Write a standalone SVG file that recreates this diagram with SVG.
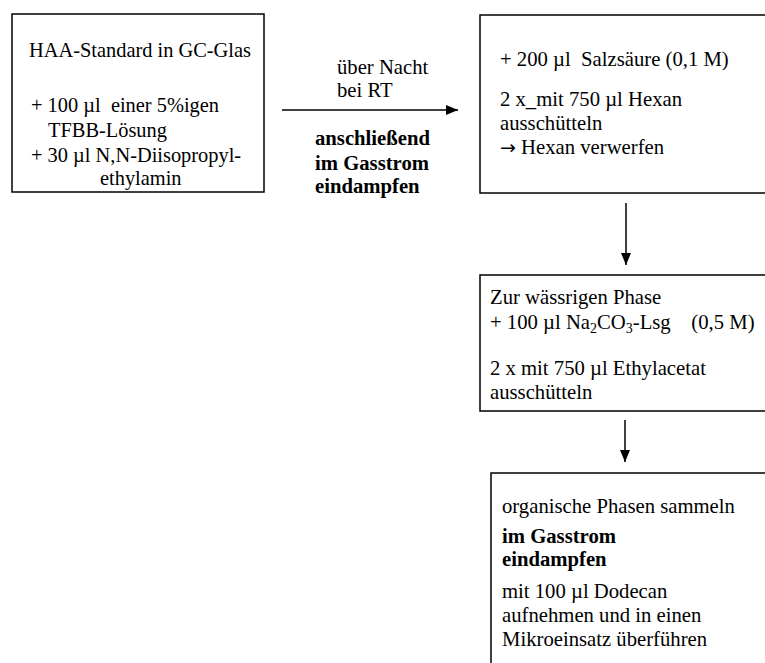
<svg xmlns="http://www.w3.org/2000/svg" width="765" height="663" viewBox="0 0 765 663">
  <style>
    .box { fill: #fff; stroke: #000; stroke-width: 1.5; }
    .t { font-family: "Liberation Serif", "Times New Roman", serif; font-size: 20.7px; fill: #000; white-space: pre; }
    .s { font-size: 20.4px; }
    .b { font-weight: bold; }
    .sub { font-size: 14px; }
    .sym { font-family: "DejaVu Sans", sans-serif; font-size: 19px; }
    .conn { stroke: #000; stroke-width: 1.5; fill: none; }
  </style>
  <defs>
    <marker id="arrow" viewBox="0 0 12 10" refX="12" refY="5" markerWidth="12" markerHeight="10" markerUnits="userSpaceOnUse" orient="auto">
      <path d="M0,0 L12,5 L0,10 Z" fill="#000"/>
    </marker>
  </defs>
  <rect width="765" height="663" fill="#fff"/>

  <g id="connectors">
    <line class="conn" x1="282" y1="110" x2="458" y2="110" marker-end="url(#arrow)"/>
    <line class="conn" x1="626" y1="203" x2="626" y2="265" marker-end="url(#arrow)"/>
    <line class="conn" x1="625" y1="420" x2="625" y2="462" marker-end="url(#arrow)"/>
  </g>

  <g id="arrow-label">
    <text class="t" x="337" y="74">über Nacht</text>
    <text class="t" x="337" y="97">bei RT</text>
    <text class="t b" x="315" y="145">anschließend</text>
    <text class="t b" x="315" y="170">im Gasstrom</text>
    <text class="t b" x="315" y="193">eindampfen</text>
  </g>

  <g id="node-start">
    <rect class="box" x="12" y="14" width="252" height="178"/>
    <text class="t s" x="29" y="57">HAA-Standard in GC-Glas</text>
    <text class="t s" x="31" y="112">+ 100 µl  einer 5%igen</text>
    <text class="t s" x="48" y="137">TFBB-Lösung</text>
    <text class="t s" x="31" y="162">+ 30 µl N,N-Diisopropyl-</text>
    <text class="t s" x="100" y="185">ethylamin</text>
  </g>

  <g id="node-acid">
    <rect class="box" x="480" y="15" width="300" height="178"/>
    <text class="t" x="500" y="66">+ 200 µl  Salzsäure (0,1 M)</text>
    <text class="t" x="500" y="106">2 x_mit 750 µl Hexan</text>
    <text class="t" x="500" y="130">ausschütteln</text>
    <text class="t" x="500" y="154"><tspan class="sym">→</tspan> Hexan verwerfen</text>
  </g>

  <g id="node-aqueous">
    <rect class="box" x="480" y="275" width="300" height="136"/>
    <text class="t" x="490" y="304">Zur wässrigen Phase</text>
    <text class="t" x="490" y="329">+ 100 µl Na<tspan class="sub" dy="4">2</tspan><tspan dy="-4">CO</tspan><tspan class="sub" dy="4">3</tspan><tspan dy="-4">-Lsg    (0,5 M)</tspan></text>
    <text class="t" x="490" y="375">2 x mit 750 µl Ethylacetat</text>
    <text class="t" x="490" y="399">ausschütteln</text>
  </g>

  <g id="node-organic">
    <rect class="box" x="491" y="473" width="300" height="220"/>
    <text class="t" x="502" y="513">organische Phasen sammeln</text>
    <text class="t b" x="502" y="543">im Gasstrom</text>
    <text class="t b" x="502" y="566">eindampfen</text>
    <text class="t" x="502" y="598">mit 100 µl Dodecan</text>
    <text class="t" x="502" y="622">aufnehmen und in einen</text>
    <text class="t" x="502" y="646">Mikroeinsatz überführen</text>
  </g>
</svg>
